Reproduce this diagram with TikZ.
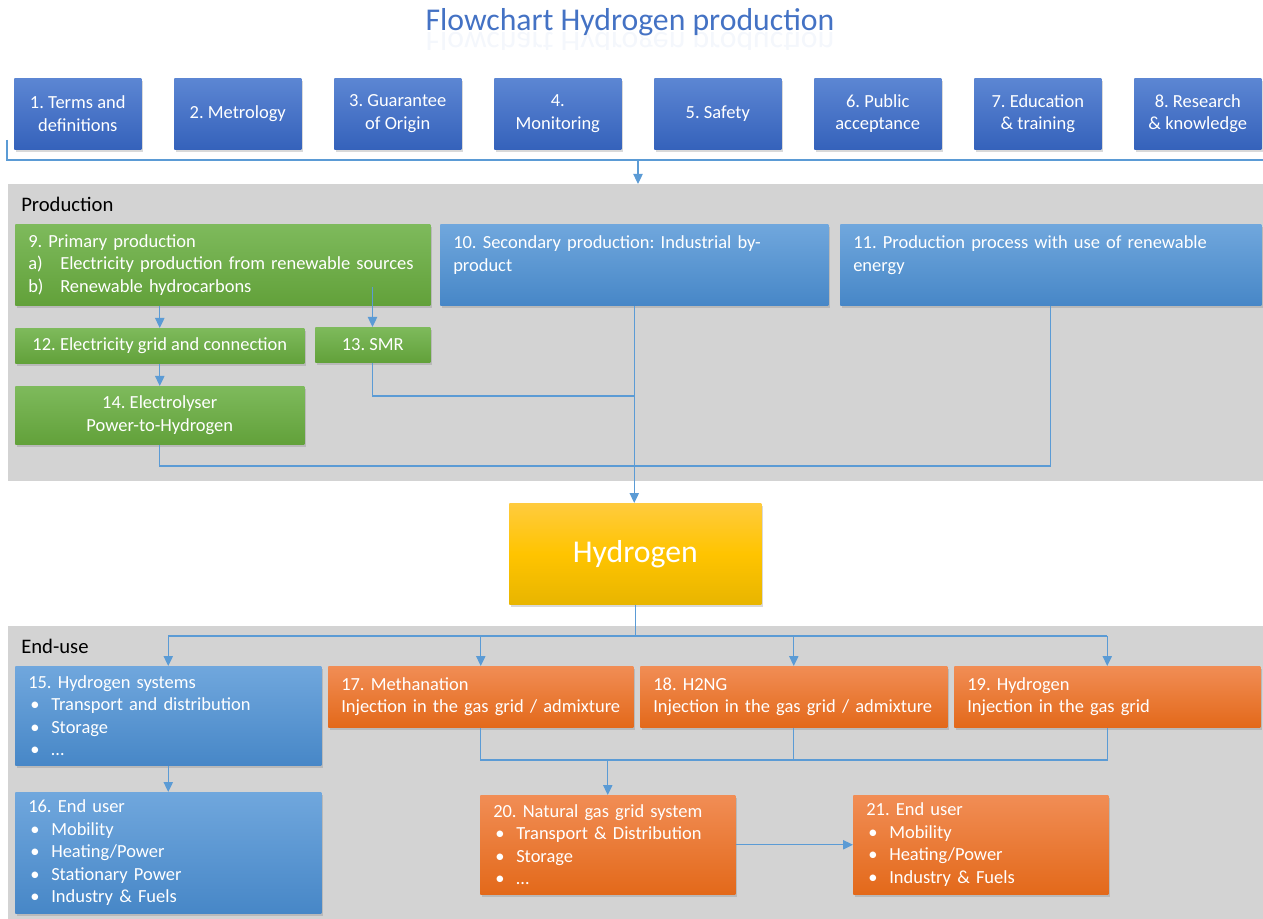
\documentclass[tikz,border=0pt]{standalone}
\usepackage{fontspec}
\setmainfont{Carlito}
\usetikzlibrary{shadows,arrows.meta}
\definecolor{tbTop}{HTML}{5C86D3}
\definecolor{tbBot}{HTML}{3562BB}
\definecolor{mbTop}{HTML}{70A7DD}
\definecolor{mbBot}{HTML}{4787C7}
\definecolor{grTop}{HTML}{7EBA5C}
\definecolor{grBot}{HTML}{62A13A}
\definecolor{orTop}{HTML}{F18D55}
\definecolor{orBot}{HTML}{E3691A}
\definecolor{yeTop}{HTML}{FFCB3E}
\definecolor{yeMid}{HTML}{FFC400}
\definecolor{yeBot}{HTML}{E8B500}
\definecolor{regGray}{HTML}{D3D3D3}
\definecolor{lineBlue}{HTML}{5B9BD5}
\definecolor{titleBlue}{HTML}{4472C4}
\frenchspacing
\newcommand{\bodyf}{\fontsize{13.85pt}{16.9pt}\selectfont\frenchspacing\hyphenpenalty=10000 }
\newcommand{\labf}{\fontsize{15.5pt}{18pt}\selectfont}
\newcommand{\titf}{\fontsize{23.8pt}{28pt}\selectfont}
\newcommand{\bul}[1]{\mbox{\makebox[17.25pt][l]{\hspace{1.5pt}•}#1}}
\newcommand{\enm}[2]{\mbox{\makebox[24pt][l]{#1}#2}}
\begin{document}
\begin{tikzpicture}[x=0.75pt,y=-0.75pt,
  box/.style={anchor=north west, inner xsep=9.75pt, inner ysep=0pt, text=white, font=\bodyf,
    drop shadow={shadow xshift=1.2pt, shadow yshift=-1.8pt, opacity=0.3}},
  topblue/.style={box, top color=tbTop, bottom color=tbBot, align=center, minimum width=95.25pt, minimum height=53.25pt},
  midblue/.style={box, top color=mbTop, bottom color=mbBot},
  green/.style={box, top color=grTop, bottom color=grBot},
  orange/.style={box, top color=orTop, bottom color=orBot},
  region/.style={anchor=north west, fill=regGray, draw=none, inner sep=0pt},
  reglab/.style={anchor=west, inner sep=0pt, font=\labf, text=black},
  conn/.style={draw=lineBlue, line width=0.9pt},
  arr/.style={conn, -{Triangle[length=7.5pt,width=7pt]}}
]
\useasboundingbox (0,0) rectangle (1263,919);
% title
\node[anchor=base, font=\titf, text=titleBlue, inner sep=0pt] (title) at (630,31) {Flowchart Hydrogen production};
\begin{scope}
\clip (400,33) rectangle (860,50);
\node[anchor=base, font=\titf, text=titleBlue, inner sep=0pt, yscale=-1, opacity=0.06] (titlerefl) at (630,33) {Flowchart Hydrogen production};
\end{scope}
% regions
\node[region, minimum width=941.25pt, minimum height=222.75pt] (prod) at (8,184) {};
\node[region, minimum width=941.25pt, minimum height=219.75pt] (enduse) at (8,626) {};
\node[reglab] (prodlab) at (21,204) {Production};
\node[reglab] (endlab) at (21,646) {End-use};
% top boxes
\node[topblue] (b1) at (14,78) {1. Terms and\\definitions};
\node[topblue] (b2) at (174,78) {2. Metrology};
\node[topblue] (b3) at (334,78) {3. Guarantee\\of Origin};
\node[topblue] (b4) at (494,78) {4.\\Monitoring};
\node[topblue] (b5) at (654,78) {5. Safety};
\node[topblue] (b6) at (814,78) {6. Public\\acceptance};
\node[topblue] (b7) at (974,78) {7. Education\\\&{} training};
\node[topblue] (b8) at (1134,78) {8. Research\\\&{} knowledge};
% production boxes
\node[green, align=left, text width=291.75pt, minimum height=60.75pt] (b9) at (15,224)
  {9. Primary production\\\enm{a)}{Electricity production from renewable sources}\\\enm{b)}{Renewable hydrocarbons}};
\node[midblue, align=left, text width=271.5pt, minimum height=60.75pt] (b10) at (440,224)
  {\mbox{10. Secondary production: Industrial by-}\\product\\\mbox{}};
\node[midblue, align=left, text width=296.25pt, minimum height=60.75pt] (b11) at (840,224)
  {\mbox{11. Production process with use of renewable}\\energy\\\mbox{}};
\node[green, align=center, minimum width=216.75pt, minimum height=26.25pt] (b12) at (15,328) {12. Electricity grid and connection};
\node[green, align=center, minimum width=86.25pt, minimum height=26.25pt] (b13) at (315,327) {13. SMR};
\node[green, align=center, minimum width=216.75pt, minimum height=43.5pt] (b14) at (15,386) {14. Electrolyser\\Power-to-Hydrogen};
% hydrogen
\node[box, top color=yeTop, bottom color=yeBot, middle color=yeMid, align=center, minimum width=189pt, minimum height=75.75pt, font=\titf] (hyd) at (509,503) {Hydrogen};
% end-use boxes
\node[midblue, align=left, text width=210pt, minimum height=74.25pt] (b15) at (15,666)
  {15. Hydrogen systems\\\bul{Transport and distribution}\\\bul{Storage}\\\bul{…}};
\node[midblue, align=left, text width=210pt, minimum height=90.75pt] (b16) at (15,792)
  {16. End user\\\bul{Mobility}\\\bul{Heating/Power}\\\bul{Stationary Power}\\\bul{Industry \& Fuels}};
\node[orange, align=left, text width=209.25pt, minimum height=45.75pt] (b17) at (328,666)
  {17. Methanation\\\mbox{Injection in the gas grid / admixture}};
\node[orange, align=left, text width=210.75pt, minimum height=45.75pt] (b18) at (640,666)
  {18. H2NG\\\mbox{Injection in the gas grid / admixture}};
\node[orange, align=left, text width=210pt, minimum height=45.75pt] (b19) at (954,666)
  {19. Hydrogen\\Injection in the gas grid};
\node[orange, align=left, text width=171.75pt, minimum height=74.25pt] (b20) at (480,795)
  {20. Natural gas grid system\\\bul{Transport \& Distribution}\\\bul{Storage}\\\bul{…}};
\node[orange, align=left, text width=171.75pt, minimum height=74.25pt] (b21) at (853,795)
  {21. End user\\\bul{Mobility}\\\bul{Heating/Power}\\\bul{Industry \& Fuels}};
% connectors top
\coordinate (brk) at (7,140);
\coordinate (brkR) at (1263,160);
\coordinate (topArr) at (638,160);
\draw[conn] (brk) -- (brk |- brkR) -- (brkR);
\draw[arr] (topArr) -- (topArr |- prod.north);
% production connectors
\draw[arr] (b9.south -| b12.north) -- (b12.north);
\coordinate (c9) at (372.5,287);
\draw[arr] (c9) -- (c9 |- b13.north);
\draw[arr] (b12.south) -- (b14.north);
\coordinate (j13) at (634,396);
\draw[conn] (b13.south) -- (b13.south |- j13) -- (j13);
\draw[arr] (b10.south) -- (b10.south |- hyd.north);
\coordinate (j14) at (0,466);
\draw[conn] (b14.south) -- (b14.south |- j14) -- (b11.south |- j14) -- (b11.south);
% end-use connectors
\coordinate (eh) at (0,636);
\draw[conn] (hyd.south) -- (hyd.south |- eh);
\draw[conn] (b15.north |- eh) -- (b19.north |- eh);
\foreach \n in {b15,b17,b18,b19} \draw[arr] (\n.north |- eh) -- (\n.north);
\draw[arr] (b15.south) -- (b16.north);
\coordinate (ej) at (0,760);
\draw[conn] (b17.south) -- (b17.south |- ej) -- (b19.south |- ej) -- (b19.south);
\draw[conn] (b18.south) -- (b18.south |- ej);
\draw[arr] (b20.north |- ej) -- (b20.north);
\draw[arr] (b20.east) -- (b21.west);
\end{tikzpicture}
\end{document}
